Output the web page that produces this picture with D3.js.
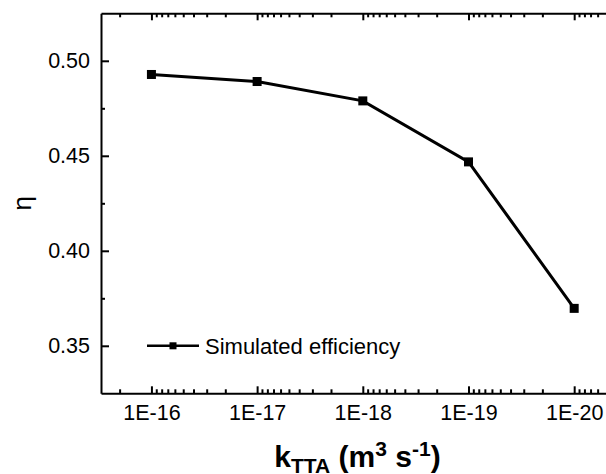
<!DOCTYPE html>
<html>
<head>
<meta charset="utf-8">
<script src="https://cdn.jsdelivr.net/npm/d3@7"></script>
<style>
body { margin: 0; background: #fff; }
svg { display: block; font-family: "Liberation Sans", Arial, sans-serif; }
.axis path, .axis line { stroke: #000; stroke-width: 2px; }
.axis text { font-size: 21.5px; fill: #000; font-family: "Liberation Sans", Arial, sans-serif; }
</style>
</head>
<body>
<svg id="chart" width="606" height="474"></svg>
<script>
// rate constant (x, log axis, reversed) and simulated efficiency
var kValues = [1e-16, 1e-17, 1e-18, 1e-19, 1e-20];
var efficiency = [0.4928, 0.4891, 0.4789, 0.4468, 0.3697];
var xTickLabels = ["1E-16", "1E-17", "1E-18", "1E-19", "1E-20"];
var yTicks = [0.35, 0.40, 0.45, 0.50];
var yMinorTicks = [0.375, 0.425, 0.475];
var seriesName = "Simulated efficiency";

var svg = d3.select("#chart");
var pLeft = 101, pRight = 606, pTop = 13.3, pBottom = 393.3;

var x = d3.scaleLog()
	.domain([3e-16, 5e-21])
	.range([pLeft, pRight]);

var y = d3.scaleLinear()
	.domain([0.325, 0.525])
	.range([pBottom, pTop]);

// minor log ticks 2..9 in every decade that falls inside the domain
var xMinor = [];
for (var e = -21; e <= -16; e++) {
	for (var m = 2; m <= 9; m++) {
		var v = m * Math.pow(10, e);
		if (v < 3e-16 && v > 5e-21) xMinor.push(v);
	}
}

// bottom axis
svg.append("g").attr("class", "axis")
	.attr("transform", "translate(0," + pBottom + ")")
	.call(d3.axisBottom(x).tickValues(kValues).tickSizeInner(-7).tickSizeOuter(0).tickPadding(11)
		.tickFormat(function(d, i) { return xTickLabels[i]; }));
svg.append("g").attr("class", "axis")
	.attr("transform", "translate(0," + pBottom + ")")
	.call(d3.axisBottom(x).tickValues(xMinor).tickSizeInner(-4).tickSizeOuter(0).tickFormat(""))
	.select(".domain").remove();

// top axis, ticks only
svg.append("g").attr("class", "axis")
	.attr("transform", "translate(0," + pTop + ")")
	.call(d3.axisTop(x).tickValues(kValues).tickSizeInner(-7).tickSizeOuter(0).tickFormat(""));
svg.append("g").attr("class", "axis")
	.attr("transform", "translate(0," + pTop + ")")
	.call(d3.axisTop(x).tickValues(xMinor).tickSizeInner(-4).tickSizeOuter(0).tickFormat(""))
	.select(".domain").remove();

// left axis
svg.append("g").attr("class", "axis")
	.attr("transform", "translate(" + pLeft + ",0)")
	.call(d3.axisLeft(y).tickValues(yTicks).tickSizeInner(-8).tickSizeOuter(0).tickPadding(11)
		.tickFormat(d3.format(".2f")));
svg.append("g").attr("class", "axis")
	.attr("transform", "translate(" + pLeft + ",0)")
	.call(d3.axisLeft(y).tickValues(yMinorTicks).tickSizeInner(-4).tickSizeOuter(0).tickFormat(""))
	.select(".domain").remove();

// data line + markers
var pts = kValues.map(function(k, i) { return [k, efficiency[i]]; });
var line = d3.line().x(function(d) { return x(d[0]); }).y(function(d) { return y(d[1]); });

svg.append("path")
	.datum(pts)
	.attr("d", line)
	.attr("fill", "none")
	.attr("stroke", "#000")
	.attr("stroke-width", 3);

var ms = 9;
svg.selectAll("rect.pt")
	.data(pts)
	.enter().append("rect")
	.attr("class", "pt")
	.attr("x", function(d) { return x(d[0]) - ms / 2; })
	.attr("y", function(d) { return y(d[1]) - ms / 2; })
	.attr("width", ms)
	.attr("height", ms)
	.attr("fill", "#000");

// legend
var lg = svg.append("g").attr("transform", "translate(147," + y(0.35) + ")");
lg.append("line").attr("x1", 0).attr("x2", 52).attr("y1", 0).attr("y2", 0)
	.attr("stroke", "#000").attr("stroke-width", 2.5);
lg.append("rect").attr("x", 26 - 3.5).attr("y", -3.5).attr("width", 7).attr("height", 7).attr("fill", "#000");
lg.append("text").attr("x", 58).attr("y", 8).style("font-size", "22px").text(seriesName);

// y title
svg.append("text")
	.attr("transform", "translate(31," + ((pTop + pBottom) / 2) + ") rotate(-90)")
	.attr("text-anchor", "middle")
	.style("font-size", "26px")
	.text("η");

// x title
var xt = svg.append("text")
	.attr("x", (pLeft + pRight) / 2 + 4)
	.attr("y", 467)
	.attr("text-anchor", "middle")
	.style("font-size", "30px")
	.style("font-weight", "bold");
xt.append("tspan").text("k");
xt.append("tspan").attr("dy", 6).style("font-size", "21px").text("TTA");
xt.append("tspan").attr("dy", -6).text(" (m");
xt.append("tspan").attr("dy", -11).style("font-size", "21px").text("3");
xt.append("tspan").attr("dy", 11).text(" s");
xt.append("tspan").attr("dy", -11).style("font-size", "21px").text("-1");
xt.append("tspan").attr("dy", 11).text(")");
</script>
</body>
</html>
